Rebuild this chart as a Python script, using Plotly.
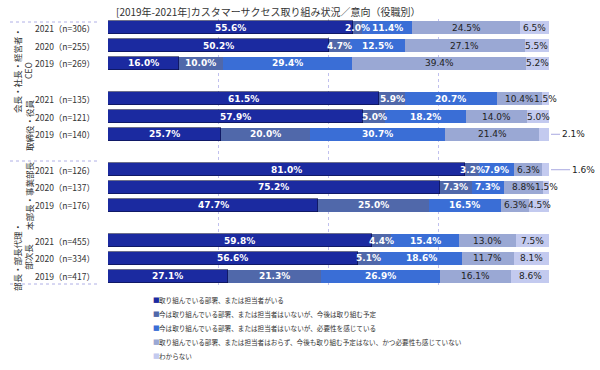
import plotly.graph_objects as go

# ---------------- data ----------------
groups = ["会長・社長・経営者・<br>CEO", "取締役・役員", "本部長・事業部長", "部長・部長代理・<br>部次長"]
years = ["2021", "2020", "2019"]
n_values = [[306, 255, 269], [135, 121, 140], [126, 137, 176], [455, 334, 417]]

series_names = [
    "取り組んでいる部署、または担当者がいる",
    "今は取り組んでいる部署、または担当者はいないが、今後は取り組む予定",
    "今は取り組んでいる部署、または担当者はいないが、必要性を感じている",
    "取り組んでいる部署、または担当者はおらず、今後も取り組む予定はない、かつ必要性も感じていない",
    "わからない",
]
s1 = [55.6, 50.2, 16.0, 61.5, 57.9, 25.7, 81.0, 75.2, 47.7, 59.8, 56.6, 27.1]
s2 = [2.0, 4.7, 10.0, 5.9, 5.0, 20.0, 3.2, 7.3, 25.0, 4.4, 5.1, 21.3]
s3 = [11.4, 12.5, 29.4, 20.7, 18.2, 30.7, 7.9, 7.3, 16.5, 15.4, 18.6, 26.9]
s4 = [24.5, 27.1, 39.4, 10.4, 14.0, 21.4, 6.3, 8.8, 6.3, 13.0, 11.7, 16.1]
s5 = [6.5, 5.5, 5.2, 1.5, 5.0, 2.1, 1.6, 1.5, 4.5, 7.5, 8.1, 8.6]
values = [s1, s2, s3, s4, s5]

title = "[2019年-2021年]カスタマーサクセス取り組み状況／意向（役職別）"

# ---------------- style ----------------
colors = ["#1b2aa0", "#5068aa", "#3a6ed6", "#9aa8d4", "#c3caef"]
text_colors = ["white", "white", "white", "#222222", "#222222"]
text_weights = ["bold", "bold", "bold", "normal", "normal"]
outside_rows = {5: 8, 6: 18}  # row index -> leader length (px) for last series labels

W, H = 600, 370
ML, MR, MT, MB = 108, 51, 19, 85
PW, PH = W - ML - MR, H - MT - MB


def px2x(px):
    return (px - ML) / PW


def py2y(py):
    return (H - MB - py) / PH


ypos = []
ylabels = []
for g in range(len(groups)):
    for r in range(len(years)):
        ypos.append(g * 4 + r)
        ylabels.append(f"{years[r]}（n={n_values[g][r]}）")

fig = go.Figure()
for k, (name, vals) in enumerate(zip(series_names, values)):
    fig.add_trace(go.Bar(
        x=vals, y=ypos, orientation="h", name=name,
        marker=dict(color=colors[k],
                    line=dict(width=0.6 if k == 0 else 0, color="#0a0f40")),
        width=0.74, hoverinfo="skip", showlegend=False,
    ))

annotations = []
# segment labels, centred on each stacked segment
cum = [0.0] * len(ypos)
for k, vals in enumerate(values):
    for i, v in enumerate(vals):
        centre = cum[i] + v / 2
        cum[i] += v
        if k == 4 and i in outside_rows:
            continue
        annotations.append(dict(
            x=centre, y=ypos[i], xref="x", yref="y", text=f"{v:.1f}%",
            showarrow=False, xanchor="center", yanchor="middle",
            font=dict(family="DejaVu Sans", size=9, color=text_colors[k],
                      weight=text_weights[k]),
        ))

# outside labels with leader lines
for i, lead in outside_rows.items():
    annotations.append(dict(
        x=100, y=ypos[i], xref="x", yref="y", text=f"{s5[i]:.1f}%",
        showarrow=True, arrowhead=0, arrowwidth=1, arrowcolor="#a8a8e0",
        ax=lead + 3, ay=0, xanchor="left", standoff=2,
        font=dict(family="DejaVu Sans", size=9, color="#222222"),
    ))

# row labels
for yp, lab in zip(ypos, ylabels):
    annotations.append(dict(
        x=px2x(97), y=yp, xref="paper", yref="y", text=lab, showarrow=False,
        xanchor="right", yanchor="middle",
        font=dict(family="Noto Sans CJK JP", size=8.5, color="#333333"),
    ))

# group labels (vertical)
group_pos = [(22, 71), (29, 125), (29, 196), (22, 257)]
for (gx, gy), gname in zip(group_pos, groups):
    annotations.append(dict(
        x=px2x(gx), y=py2y(gy), xref="paper", yref="paper", text=gname,
        showarrow=False, textangle=-90, xanchor="center", yanchor="middle",
        font=dict(family="Noto Sans CJK JP", size=8.5, color="#333333"),
    ))

# title
annotations.append(dict(
    x=px2x(268), y=py2y(12), xref="paper", yref="paper", text=title,
    showarrow=False, xanchor="center", yanchor="middle",
    font=dict(family="Noto Sans CJK JP", size=10, color="#333333"),
))

# custom legend
for k, name in enumerate(series_names):
    ly = 300 + 14 * k
    annotations.append(dict(
        x=px2x(151), y=py2y(ly), xref="paper", yref="paper", text="■",
        showarrow=False, xanchor="left", yanchor="middle",
        font=dict(family="DejaVu Sans", size=7, color=colors[k]),
    ))
    annotations.append(dict(
        x=px2x(157), y=py2y(ly), xref="paper", yref="paper", text=name,
        showarrow=False, xanchor="left", yanchor="middle",
        font=dict(family="Noto Sans CJK JP", size=6.6, color="#333333"),
    ))

shapes = []
for sy in [22, 161, 284]:
    shapes.append(dict(type="line", xref="paper", yref="paper",
                       x0=px2x(10), x1=px2x(97), y0=py2y(sy), y1=py2y(sy),
                       line=dict(color="#b0b0e6", width=1, dash="dot")))

fig.update_layout(
    width=W, height=H, barmode="stack", bargap=0,
    margin=dict(l=ML, r=MR, t=MT, b=MB, autoexpand=False),
    paper_bgcolor="white", plot_bgcolor="white",
    xaxis=dict(range=[0, 100], tickvals=[0, 25, 50, 75, 100], showticklabels=False,
               showgrid=True, gridcolor="#c0c0ee", griddash="dot", gridwidth=1,
               zeroline=False, showline=False, ticks="", fixedrange=True),
    yaxis=dict(range=[14.5, -0.5], showticklabels=False, showgrid=False,
               zeroline=False, showline=False, ticks="", fixedrange=True),
    annotations=annotations, shapes=shapes, showlegend=False,
)

fig.write_html("out.html", config={"displayModeBar": False},
               post_script="document.body.style.margin='0';")
